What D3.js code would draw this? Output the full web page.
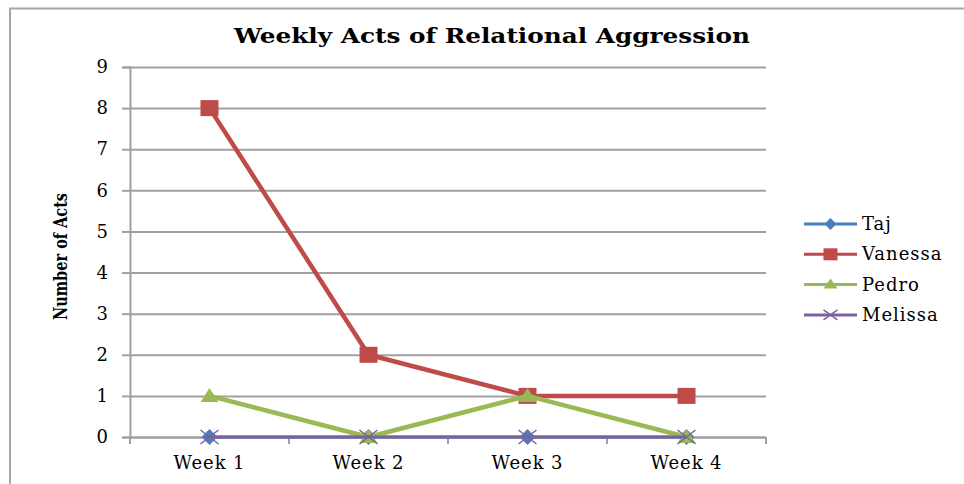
<!DOCTYPE html>
<html>
<head>
<meta charset="utf-8">
<script src="https://cdn.jsdelivr.net/npm/d3@7"></script>
<style>
  body { margin: 0; background: #fff; }
  svg { display: block; }
</style>
</head>
<body>
<svg id="chart"></svg>
<script>
const weeks = ["Week 1", "Week 2", "Week 3", "Week 4"];
const taj = [0, 0, 0, 0];
const vanessa = [8, 2, 1, 1];
const pedro = [1, 0, 1, 0];
const melissa = [0, 0, 0, 0];
const yTicks = [0, 1, 2, 3, 4, 5, 6, 7, 8, 9];

const series = [
  { name: "Taj", values: taj, color: "#4a7ebb", marker: "diamond", width: 3 },
  { name: "Vanessa", values: vanessa, color: "#be4b48", marker: "square", width: 4.5 },
  { name: "Pedro", values: pedro, color: "#98b954", marker: "triangle", width: 4.5 },
  { name: "Melissa", values: melissa, color: "#7d60a0", marker: "x", width: 3 }
];

const width = 964;
const height = 484;
const marginLeft = 130;
const marginRight = 198;
const marginTop = 67;
const marginBottom = 47;

const serif = "'DejaVu Serif', serif";

const svg = d3.select("#chart")
  .attr("width", width)
  .attr("height", height);

// outer frame
svg.append("path")
  .attr("d", `M10,${height} V8.5 H${width}`)
  .attr("fill", "none")
  .attr("stroke", "#a6a6a6")
  .attr("stroke-width", 2);

const x = d3.scaleBand()
  .domain(weeks)
  .range([marginLeft, width - marginRight]);

const y = d3.scaleLinear()
  .domain([0, 9])
  .range([height - marginBottom, marginTop]);

// gridlines + y axis
svg.append("g")
  .attr("transform", `translate(${marginLeft},0)`)
  .call(d3.axisLeft(y).tickValues(yTicks).tickSize(8).tickPadding(14).tickFormat(d3.format("d")))
  .call(g => g.select(".domain").attr("stroke", "#a0a0a0").attr("stroke-width", 2))
  .call(g => g.selectAll(".tick line").attr("stroke", "#a0a0a0").attr("stroke-width", 2))
  .call(g => g.selectAll(".tick line").clone()
    .attr("x2", width - marginLeft - marginRight)
    .attr("stroke", "#a0a0a0")
    .attr("stroke-width", 2))
  .call(g => g.selectAll(".tick text")
    .attr("font-family", serif)
    .attr("font-size", 18)
    .attr("fill", "#000"));

// x axis
svg.append("g")
  .attr("transform", `translate(0,${height - marginBottom})`)
  .call(d3.axisBottom(x).tickSize(0).tickPadding(19))
  .call(g => g.select(".domain").attr("stroke", "#a0a0a0").attr("stroke-width", 2))
  .call(g => g.selectAll(".tick text")
    .attr("font-family", serif)
    .attr("font-size", 18)
    .attr("letter-spacing", 0.9)
    .attr("fill", "#000"));

// x axis tick marks between categories
const bounds = weeks.map(w => x(w)).concat([x(weeks[weeks.length - 1]) + x.bandwidth()]);
svg.append("g")
  .selectAll("line")
  .data(bounds)
  .join("line")
  .attr("x1", d => d).attr("x2", d => d)
  .attr("y1", y(0)).attr("y2", y(0) + 7)
  .attr("stroke", "#a0a0a0")
  .attr("stroke-width", 2);

const cx = w => x(w) + x.bandwidth() / 2;

const line = d3.line()
  .x((d, i) => cx(weeks[i]))
  .y(d => y(d));

function drawMarker(g, type, color, size) {
  const s = size / 2;
  if (type === "square") {
    g.append("rect")
      .attr("x", -s).attr("y", -s + 1)
      .attr("width", size).attr("height", size - 2)
      .attr("fill", color);
  } else if (type === "diamond") {
    g.append("path")
      .attr("d", `M0,${-s + 1} L${s - 1},0 L0,${s - 1} L${-s + 1},0 Z`)
      .attr("fill", color);
  } else if (type === "triangle") {
    g.append("path")
      .attr("d", `M0,${-s + 1} L${s},${s - 3} L${-s},${s - 3} Z`)
      .attr("fill", color);
  } else if (type === "x") {
    g.append("path")
      .attr("d", `M${-s},${-s + 2} L${s},${s - 2} M${-s},${s - 2} L${s},${-s + 2}`)
      .attr("stroke", color)
      .attr("stroke-width", 1.5)
      .attr("fill", "none");
  }
}

series.forEach(s => {
  svg.append("path")
    .attr("fill", "none")
    .attr("stroke", s.color)
    .attr("stroke-width", s.width)
    .attr("stroke-linejoin", "round")
    .attr("d", line(s.values));

  s.values.forEach((v, i) => {
    const g = svg.append("g")
      .attr("transform", `translate(${cx(weeks[i])},${y(v)})`);
    drawMarker(g, s.marker, s.color, 18);
  });
});

// title
svg.append("text")
  .attr("x", 492)
  .attr("y", 43)
  .attr("text-anchor", "middle")
  .attr("font-family", serif)
  .attr("font-weight", "bold")
  .attr("font-size", 21)
  .attr("textLength", 516)
  .attr("lengthAdjust", "spacingAndGlyphs")
  .text("Weekly Acts of Relational Aggression");

// y axis title
svg.append("text")
  .attr("transform", `translate(67,${(193 + 320) / 2}) rotate(-90)`)
  .attr("text-anchor", "middle")
  .attr("font-family", "'DejaVu Serif Condensed', 'DejaVu Serif', serif")
  .attr("font-stretch", "condensed")
  .attr("font-weight", "bold")
  .attr("font-size", 19)
  .attr("textLength", 127)
  .attr("lengthAdjust", "spacingAndGlyphs")
  .text("Number of Acts");

// legend
const legend = svg.append("g")
  .selectAll("g")
  .data(series)
  .join("g")
  .attr("transform", (d, i) => `translate(804,${224 + i * 30.3})`);

legend.append("line")
  .attr("x1", 0).attr("x2", 53)
  .attr("stroke", d => d.color)
  .attr("stroke-width", 3);

legend.each(function(d) {
  drawMarker(d3.select(this).append("g").attr("transform", "translate(26.5,0)"), d.marker, d.color, 14);
});

legend.append("text")
  .attr("x", 58)
  .attr("y", 6)
  .attr("font-family", serif)
  .attr("font-size", 18)
  .attr("letter-spacing", 1)
  .attr("fill", "#000")
  .text(d => d.name);
</script>
</body>
</html>
